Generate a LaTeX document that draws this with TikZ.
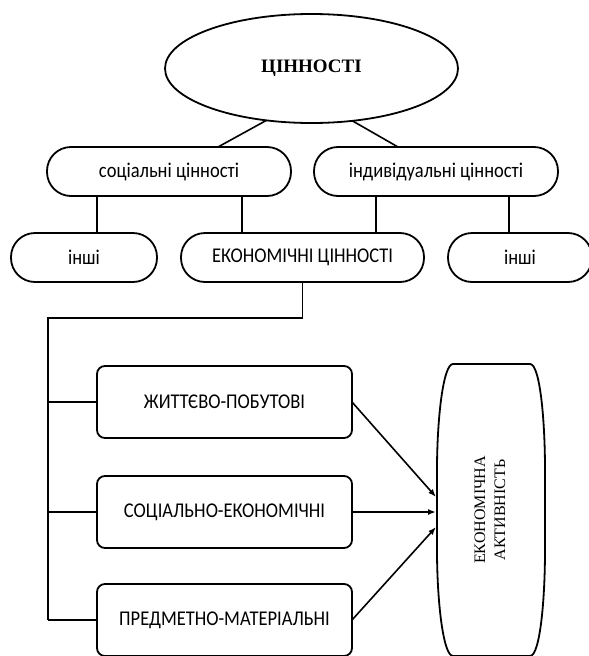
\documentclass[tikz,border=0pt]{standalone}
\usepackage{fontspec}
\setmainfont{Liberation Serif}
\newfontfamily\calfnt[FakeStretch=0.88]{Carlito}
\usetikzlibrary{arrows.meta,calc,shapes.geometric}
\begin{document}
\begin{tikzpicture}[x=1pt,y=-1pt,
  every node/.style={inner sep=0pt,outer sep=0pt},
  shp/.style={draw,line width=1.8pt},
  pill/.style={shp,rectangle,rounded corners=24pt,minimum height=49pt,font=\calfnt\fontsize{21}{24}\selectfont},
  boxx/.style={shp,rectangle,rounded corners=8pt,minimum width=255pt,minimum height=72pt,font=\calfnt\fontsize{21}{24}\selectfont},
  con/.style={line width=1.6pt},
  arr/.style={con,-{Latex[length=8pt,width=6pt]}}]
\useasboundingbox (0,0) rectangle (589,656);
\clip (0,0) rectangle (589,656);
% top ellipse
\node[shp,ellipse,minimum width=293pt,minimum height=109pt,font=\fontsize{19}{22}\selectfont\bfseries] (ell) at (311.5,68.5) {\raisebox{-3pt}{ЦІННОСТІ}};
% second row
\node[pill,minimum width=244pt] (soc) at (169,171.5) {соціальні цінності};
\node[pill,minimum width=244pt] (ind) at (436,171.5) {індивідуальні цінності};
% third row
\node[pill,minimum width=146pt] (l1) at (84,257.5) {інші};
\node[pill,minimum width=243pt] (eco) at (302.5,257.5) {ЕКОНОМІЧНІ ЦІННОСТІ};
\node[pill,minimum width=144pt] (r1) at (520,257.5) {інші};
% boxes
\node[boxx] (b1) at (224.5,402) {ЖИТТЄВО-ПОБУТОВІ};
\node[boxx] (b2) at (224.5,512) {СОЦІАЛЬНО-ЕКОНОМІЧНІ};
\node[boxx] (b3) at (224.5,620) {ПРЕДМЕТНО-МАТЕРІАЛЬНІ};
% activity
\node[minimum width=108pt,minimum height=292pt] (act) at (491,510)
  {\rotatebox{90}{\fontsize{16}{20}\selectfont\begin{tabular}{@{}c@{}}ЕКОНОМІЧНА\\АКТИВНІСТЬ\end{tabular}}};
\draw[shp] (453,364) -- (530,364) .. controls (540,364) and (545,420) .. (545,470)
  -- (545,550) .. controls (545,600) and (540,656) .. (530,656)
  -- (453,656) .. controls (443,656) and (437,600) .. (437,550)
  -- (437,470) .. controls (437,420) and (443,364) .. (453,364) -- cycle;
% connectors
\draw[con] (ell.229) -- ($(soc.north)+(49,0)$);
\draw[con] (ell.308) -- ($(ind.north)+(-38,0)$);
\coordinate (x1) at (97,0);
\coordinate (x2) at (242,0);
\coordinate (x3) at (376,0);
\coordinate (x4) at (509,0);
\draw[con] (x1 |- soc.south) -- (x1 |- l1.north);
\draw[con] (x2 |- soc.south) -- (x2 |- eco.north);
\draw[con] (x3 |- ind.south) -- (x3 |- eco.north);
\draw[con] (x4 |- ind.south) -- (x4 |- r1.north);
\coordinate (turn) at (302.5,318);
\coordinate (rail) at (48,318);
\draw[con] (eco.south) -- (turn) -- (rail) -- (rail |- b3.west);
\draw[con] (rail |- b1.west) -- (b1.west);
\draw[con] (rail |- b2.west) -- (b2.west);
\draw[con] (rail |- b3.west) -- (b3.west);
\draw[arr] (b1.east) -- ($(act.west)+(-1,-13)$);
\draw[arr] (b2.east) -- ($(act.west)+(-1,2)$);
\draw[arr] (b3.east) -- ($(act.west)+(-1,17)$);
\end{tikzpicture}
\end{document}
